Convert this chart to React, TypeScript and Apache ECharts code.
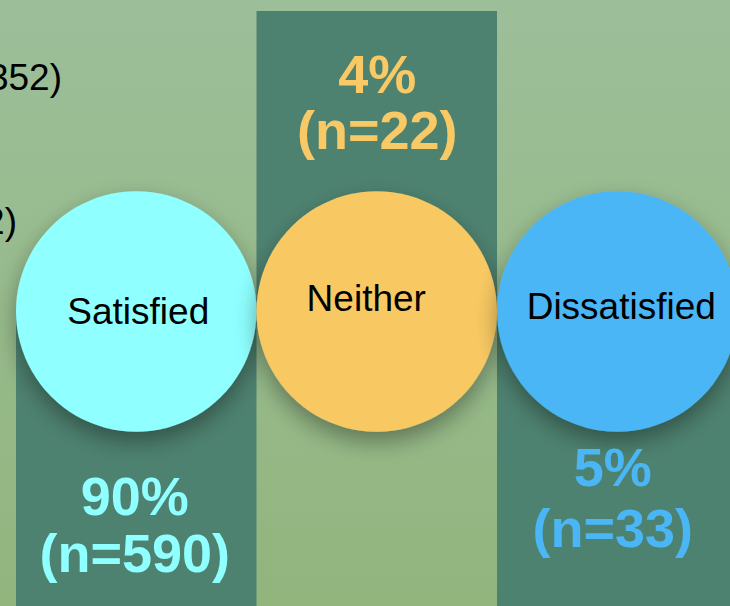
import React, { useEffect, useRef } from "react";
import * as echarts from "echarts";

// ---- data ----
const categories = ["Satisfied", "Neither", "Dissatisfied"];
const percents = [90, 4, 5];
const counts = [590, 22, 33];
const sideNotes = ["352)", "2)"];

// ---- styles ----
const circleColors = ["#8FFFFF", "#F8C964", "#4BB6F6"];
const columnColor = "#4E8270";

// layout only
const sideNotePos = [
  [62, 77],
  [17, 221],
];
const nameOffsets = [
  [2, 0],
  [-10.5, -13.5],
  [4, -5.5],
];
const valueLayout = [
  { dx: -1.5, y1: 495.5, y2: 553 },
  { dx: 0.5, y1: 73.5, y2: 130 },
  { dx: -4.5, y1: 466.5, y2: 527.5 },
];

const CIRCLE_CY = 311.5;
const COLUMN_TOP = 11;
const H = 606;

export default function App() {
  const ref = useRef<HTMLDivElement>(null);
  useEffect(() => {
    document.body.style.margin = "0";
    document.body.style.overflow = "hidden";
    if (!ref.current) return;
    const chart = echarts.init(ref.current, null, { renderer: "svg" });
    const seriesData = categories.map((c, i) => [i, percents[i], counts[i]]);

    const option: any = {
      animation: false,
      backgroundColor: new echarts.graphic.LinearGradient(0, 0, 0, 1, [
        { offset: 0, color: "#9CBF9A" },
        { offset: 1, color: "#92B57E" },
      ]),
      grid: { left: 16, top: 0, width: 721.5, height: H, containLabel: false },
      xAxis: { type: "category", data: categories, show: false, boundaryGap: true },
      yAxis: { type: "value", min: 0, max: 100, show: false },
      graphic: sideNotes.map((t, k) => ({
        type: "text",
        x: sideNotePos[k][0],
        y: sideNotePos[k][1],
        z: 0,
        style: {
          text: t,
          fill: "#000",
          font: "37px 'Liberation Sans', Arial, sans-serif",
          textAlign: "right",
          textVerticalAlign: "middle",
        },
      })),
      series: [
        {
          type: "custom",
          z: 1,
          data: seriesData,
          renderItem: (params: any, api: any) => {
            const i = api.value(0);
            const cx = api.coord([i, 0])[0];
            const bw = api.size([1, 0])[0];
            const top = params.coordSys.y;
            const cy = top + CIRCLE_CY;
            const y0 = i === 1 ? top + COLUMN_TOP : cy;
            const y1 = i === 1 ? cy : top + H;
            return {
              type: "rect",
              shape: { x: cx - bw / 2, y: y0, width: bw, height: y1 - y0 },
              style: { fill: columnColor },
            };
          },
        },
        {
          type: "custom",
          z: 2,
          data: seriesData,
          renderItem: (params: any, api: any) => {
            const i = api.value(0);
            const pct = api.value(1);
            const n = api.value(2);
            const cx = api.coord([i, 0])[0];
            const bw = api.size([1, 0])[0];
            const top = params.coordSys.y;
            const cy = top + CIRCLE_CY;
            const r = bw / 2;
            const col = circleColors[i];
            const vl = valueLayout[i];
            const valueFont = "bold 54px 'Liberation Sans', Arial, sans-serif";
            return {
              type: "group",
              children: [
                {
                  type: "circle",
                  shape: { cx, cy, r },
                  style: {
                    fill: col,
                    shadowBlur: 22,
                    shadowOffsetY: 10,
                    shadowColor: "rgba(0,0,0,0.35)",
                  },
                },
                {
                  type: "text",
                  x: cx + nameOffsets[i][0],
                  y: cy + nameOffsets[i][1],
                  style: {
                    text: categories[i],
                    fill: "#000",
                    font: "37px 'Liberation Sans', Arial, sans-serif",
                    textAlign: "center",
                    textVerticalAlign: "middle",
                  },
                },
                {
                  type: "text",
                  x: cx + vl.dx,
                  y: top + vl.y1,
                  style: {
                    text: pct + "%",
                    fill: col,
                    font: valueFont,
                    textAlign: "center",
                    textVerticalAlign: "middle",
                  },
                },
                {
                  type: "text",
                  x: cx + vl.dx,
                  y: top + vl.y2,
                  style: {
                    text: "(n=" + n + ")",
                    fill: col,
                    font: valueFont,
                    textAlign: "center",
                    textVerticalAlign: "middle",
                  },
                },
              ],
            };
          },
        },
      ],
    };
    chart.setOption(option);
    return () => chart.dispose();
  }, []);
  return (
    <div
      ref={ref}
      style={{ position: "absolute", left: 0, top: 0, width: 740, height: 606 }}
    />
  );
}
